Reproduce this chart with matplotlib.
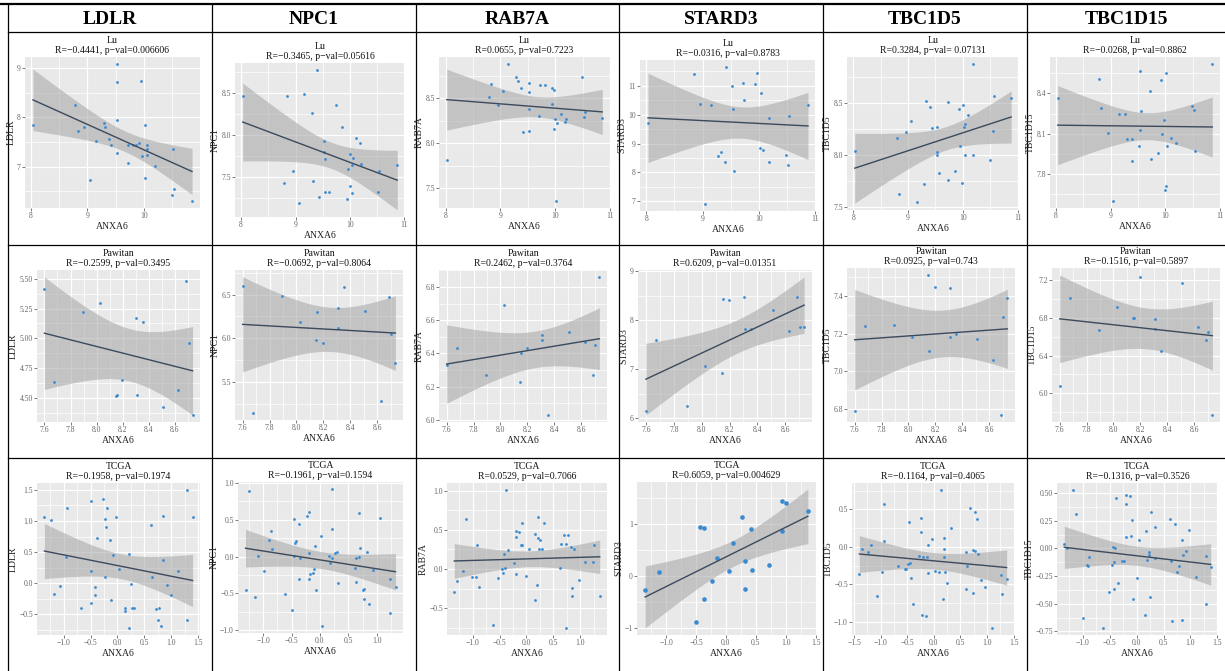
import numpy as np
import matplotlib.pyplot as plt
from matplotlib.ticker import AutoMinorLocator

genes = ["LDLR", "NPC1", "RAB7A", "STARD3", "TBC1D5", "TBC1D15"]
datasets = ["Lu", "Pawitan", "TCGA"]

# Pearson R and p-values printed over each panel (rows = datasets)
r_vals = [[-0.4441, -0.3465, 0.0655, -0.0316, 0.3284, -0.0268],
          [-0.2599, -0.0692, 0.2462, 0.6209, 0.0925, -0.1516],
          [-0.1958, -0.1961, 0.0529, 0.6059, -0.1164, -0.1316]]
p_vals = [["0.006606", "0.05616", "0.7223", "0.8783", " 0.07131", "0.8862"],
          ["0.3495", "0.8064", "0.3764", "0.01351", "0.743", "0.5897"],
          ["0.1974", "0.1594", "0.7066", "0.004629", "0.4065", "0.3526"]]

# axis breaks
lu_x_ticks = [8, 9, 10, 11]
pawitan_x_ticks = [7.6, 7.8, 8.0, 8.2, 8.4, 8.6]
tcga_x_ticks = [-1.5, -1.0, -0.5, 0.0, 0.5, 1.0, 1.5]
lu_y_ticks = [[7, 8, 9], [7.5, 8.0, 8.5], [7.5, 8.0, 8.5],
              [7, 8, 9, 10, 11], [7.5, 8.0, 8.5], [7.8, 8.1, 8.4]]
pawitan_y_ticks = [[4.50, 4.75, 5.00, 5.25, 5.50], [5.5, 6.0, 6.5], [6.0, 6.2, 6.4, 6.6, 6.8],
                   [6, 7, 8, 9], [6.8, 7.0, 7.2, 7.4], [6.0, 6.4, 6.8, 7.2]]
tcga_y_ticks = [[-0.5, 0.0, 0.5, 1.0, 1.5], [-1.0, -0.5, 0.0, 0.5, 1.0], [-0.5, 0.0, 0.5, 1.0],
                [-1, 0, 1], [-1.0, -0.5, 0.0, 0.5], [-0.75, -0.50, -0.25, 0.00, 0.25, 0.50]]

# ---- Lu ----
lu_ldlr_x = [8.04, 8.79, 8.83, 8.95, 9.04, 9.16, 9.29, 9.31, 9.39, 9.42, 9.53, 9.53, 9.52, 9.53, 9.72,
             9.72, 9.81, 9.86, 9.91, 9.94, 9.97, 10.02, 10.02, 10.05, 10.05, 10.05, 10.19, 10.52, 10.49, 10.54, 10.85]
lu_ldlr_y = [7.85, 8.25, 7.72, 7.81, 6.72, 7.52, 7.89, 7.81, 7.55, 7.43, 9.08, 8.72, 7.94, 7.28, 7.43,
             7.07, 7.43, 7.44, 7.47, 8.73, 7.22, 7.85, 6.76, 7.44, 7.36, 7.24, 7.01, 7.36, 6.42, 6.55, 6.30]
lu_npc1_x = [8.03, 8.79, 8.85, 8.95, 9.06, 9.16, 9.31, 9.32, 9.39, 9.44, 9.52, 9.53, 9.54, 9.54, 9.62,
             9.75, 9.85, 9.95, 9.97, 10.00, 10.01, 10.03, 10.04, 10.05, 10.11, 10.19, 10.21, 10.51, 10.54, 10.87]
lu_npc1_y = [8.46, 7.43, 8.46, 7.57, 7.20, 8.49, 8.26, 7.45, 8.77, 7.27, 7.93, 7.80, 7.72, 7.32, 7.33,
             8.36, 8.09, 7.24, 7.60, 7.40, 7.77, 7.64, 7.31, 7.73, 7.97, 7.90, 7.66, 7.33, 7.57, 7.65]
lu_rab7a_x = [8.02, 8.79, 8.83, 8.95, 9.05, 9.14, 9.28, 9.32, 9.38, 9.42, 9.52, 9.53, 9.52, 9.53, 9.71,
              9.73, 9.82, 9.94, 9.95, 9.98, 9.97, 10.00, 10.03, 10.01, 10.10, 10.18, 10.20, 10.49, 10.52, 10.54, 10.86]
lu_rab7a_y = [7.81, 8.51, 8.66, 8.42, 8.58, 8.88, 8.74, 8.69, 8.61, 8.13, 8.57, 8.67, 8.38, 8.14, 8.30,
              8.65, 8.65, 8.44, 8.61, 8.59, 8.16, 8.27, 8.22, 7.36, 8.33, 8.24, 8.27, 8.73, 8.29, 8.35, 8.28]
lu_stard3_x = [8.03, 8.84, 8.95, 9.05, 9.15, 9.28, 9.32, 9.39, 9.42, 9.52, 9.54, 9.55, 9.72,
               9.73, 9.93, 9.97, 10.01, 10.04, 10.08, 10.17, 10.18, 10.48, 10.52, 10.53, 10.87]
lu_stard3_y = [9.72, 11.41, 10.38, 6.90, 10.35, 8.57, 8.70, 8.37, 11.66, 11.01, 10.21, 8.05, 11.09,
               10.51, 11.06, 11.43, 8.86, 10.74, 8.78, 9.89, 8.37, 8.60, 8.27, 9.95, 10.33]
lu_tbc1d5_x = [8.03, 8.79, 8.84, 8.96, 9.05, 9.16, 9.29, 9.32, 9.40, 9.43, 9.52, 9.53, 9.53, 9.56, 9.73,
               9.73, 9.86, 9.94, 9.93, 9.98, 10.00, 10.03, 10.02, 10.04, 10.10, 10.19, 10.19, 10.50, 10.54, 10.57, 10.88]
lu_tbc1d5_y = [8.04, 8.16, 7.63, 8.22, 8.32, 7.55, 7.72, 8.52, 8.46, 8.26, 8.27, 8.03, 8.00, 7.83, 8.51,
               7.76, 7.85, 8.09, 8.44, 7.73, 8.48, 8.30, 8.27, 8.00, 8.38, 8.87, 8.00, 7.95, 8.23, 8.56, 8.54]
lu_tbc1d15_x = [8.03, 8.79, 8.83, 8.95, 9.05, 9.16, 9.27, 9.29, 9.39, 9.39, 9.52, 9.53, 9.54, 9.56, 9.72,
                9.73, 9.86, 9.93, 9.94, 9.97, 10.01, 10.00, 10.02, 10.03, 10.10, 10.19, 10.49, 10.53, 10.54, 10.86]
lu_tbc1d15_y = [8.37, 8.51, 8.29, 8.11, 7.60, 8.25, 8.25, 8.06, 8.06, 7.90, 8.01, 8.13, 8.57, 8.27, 8.42,
                7.91, 7.96, 8.50, 8.10, 8.20, 8.55, 7.68, 7.71, 8.01, 8.07, 8.03, 8.31, 8.28, 7.97, 8.62]

# ---- Pawitan (same ANXA6 values for every gene) ----
pawitan_anxa6 = [7.60, 7.675, 7.895, 8.025, 8.145, 8.155, 8.195, 8.305, 8.31, 8.355, 8.51, 8.625, 8.685, 8.705, 8.735]
pawitan_ldlr = [5.41, 4.64, 5.22, 5.30, 4.52, 4.53, 4.65, 5.17, 4.53, 5.14, 4.43, 4.57, 5.48, 4.96, 4.36]
pawitan_npc1 = [6.60, 5.14, 6.48, 6.19, 5.98, 6.30, 5.94, 6.35, 6.12, 6.59, 6.31, 5.28, 6.47, 6.05, 5.72]
pawitan_rab7a = [6.33, 6.43, 6.27, 6.69, 6.23, 6.40, 6.43, 6.48, 6.51, 6.03, 6.53, 6.47, 6.27, 6.45, 6.86]
pawitan_stard3 = [6.15, 7.60, 6.25, 7.07, 6.93, 8.43, 8.41, 8.48, 7.81, 7.82, 8.21, 7.78, 8.48, 7.86, 7.86]
pawitan_tbc1d5 = [6.79, 7.24, 7.245, 7.18, 7.51, 7.11, 7.445, 7.44, 7.18, 7.20, 7.17, 7.06, 6.77, 7.29, 7.39]
pawitan_tbc1d15 = [6.08, 7.005, 6.67, 6.91, 6.80, 6.80, 7.23, 6.79, 6.68, 6.45, 7.17, 6.70, 6.57, 6.655, 5.77]

# ---- TCGA ----
tcga_ldlr_x = [-1.36, -1.24, -1.19, -1.07, -0.95, -0.94, -0.67, -0.50, -0.49, -0.49, -0.42, -0.42, -0.38, -0.27, -0.24,
               -0.23, -0.22, -0.20, -0.13, -0.12, -0.09, -0.02, 0.02, 0.15, 0.15, 0.22, 0.22, 0.25, 0.27, 0.30,
               0.63, 0.65, 0.71, 0.76, 0.77, 0.81, 0.85, 0.85, 0.92, 1.00, 1.12, 1.30, 1.30, 1.40]
tcga_ldlr_y = [1.07, 1.01, -0.165, -0.04, 0.415, 1.21, -0.40, 0.19, 1.32, -0.31, -0.065, -0.19, 0.72, 1.35, 0.10,
               1.04, 0.90, 1.21, 0.70, -0.27, 0.46, 1.06, 0.23, -0.40, -0.44, 0.47, -0.72, -0.015, -0.40, -0.39,
               0.94, 0.10, -0.41, -0.585, -0.40, -0.69, 1.085, 0.38, -0.03, -0.19, 0.20, 1.50, -0.585, 1.06]
tcga_npc1_x = [-1.31, -1.25, -1.14, -1.09, -0.98, -0.90, -0.86, -0.85, -0.61, -0.50, -0.45, -0.44, -0.42, -0.45,
               -0.375, -0.375, -0.345, -0.23, -0.20, -0.20, -0.19, -0.17, -0.13, -0.10, -0.08, -0.07, 0.01, 0.04,
               0.16, 0.18, 0.22, 0.22, 0.22, 0.26, 0.30, 0.32, 0.61, 0.63, 0.63, 0.68, 0.69, 0.71, 0.76, 0.77,
               0.77, 0.82, 0.87, 0.94, 1.05, 1.23, 1.24, 1.33]
tcga_npc1_y = [-0.46, 0.89, -0.55, 0.01, -0.19, 0.23, 0.35, 0.105, -0.51, -0.73, 0.51, 0.19, 0.205, 0.01,
               0.44, -0.30, -0.02, 0.555, -0.30, 0.61, 0.05, -0.235, -0.22, -0.165, 0.14, -0.46, 0.28, -0.945,
               0.01, -0.09, 0.92, 0.38, -0.02, 0.055, 0.06, -0.355, -0.16, -0.34, -0.02, 0.59, 0.0, 0.11, -0.45, -0.58,
               -0.445, 0.06, -0.64, -0.185, 0.53, -0.31, -0.77, -0.41]
tcga_rab7a_x = [-1.34, -1.29, -1.17, -1.12, -1.01, -0.93, -0.92, -0.89, -0.62, -0.52, -0.46, -0.44, -0.42, -0.40,
                -0.38, -0.35, -0.24, -0.20, -0.20, -0.19, -0.14, -0.10, -0.08, -0.08, 0.00, 0.04, 0.15, 0.16,
                0.19, 0.22, 0.22, 0.25, 0.23, 0.29, 0.33, 0.62, 0.65, 0.70, 0.73, 0.74, 0.77, 0.83, 0.84, 0.84,
                0.89, 0.97, 1.08, 1.23, 1.26, 1.36]
tcga_rab7a_y = [-0.295, -0.15, -0.02, 0.64, -0.105, -0.10, 0.31, -0.23, -0.71, -0.11, 0.0, -0.045, 0.19, 0.01,
                1.01, 0.24, 0.08, -0.07, 0.48, 0.41, 0.47, 0.30, 0.31, 0.59, -0.09, 0.26, 0.45, -0.39,
                -0.21, 0.67, 0.39, 0.375, 0.25, 0.26, 0.59, 0.01, 0.32, 0.44, 0.32, -0.755, 0.43, 0.28, -0.24, -0.34,
                0.25, -0.135, 0.09, 0.09, 0.31, -0.34]
tcga_stard3_x = [-1.35, -1.12, -0.50, -0.43, -0.37, -0.36, -0.23, -0.15, 0.06, 0.12,
                 0.27, 0.32, 0.32, 0.42, 0.43, 0.72, 0.93, 0.93, 1.00, 1.37]
tcga_stard3_y = [-0.27, 0.065, -0.90, 0.94, 0.92, -0.44, -0.10, 0.335, 0.10, 0.625,
                 1.135, 0.29, -0.245, 0.90, 0.12, 0.205, 1.45, 0.865, 1.40, 1.26]
tcga_tbc1d5_x = [-1.40, -1.35, -1.23, -1.18, -1.06, -0.975, -0.94, -0.93, -0.67, -0.55, -0.53, -0.48, -0.47,
                 -0.44, -0.42, -0.39, -0.27, -0.25, -0.24, -0.23, -0.20, -0.15, -0.12, -0.11, -0.10, -0.025,
                 0.02, 0.10, 0.14, 0.17, 0.20, 0.20, 0.20, 0.22, 0.24, 0.32, 0.60, 0.60, 0.63, 0.68, 0.73,
                 0.74, 0.78, 0.78, 0.82, 0.83, 0.89, 0.97, 1.09, 1.26, 1.28, 1.37]
tcga_tbc1d5_y = [-0.36, -0.025, -0.065, 0.02, -0.655, -0.33, 0.575, 0.075, -0.25, -0.29, -0.30, -0.225, 0.33,
                 -0.21, -0.415, -0.77, -0.12, 0.385, 0.20, -0.915, -0.14, -0.925, -0.13, 0.025, -0.345, 0.11,
                 -0.32, -0.33, 0.76, -0.70, 0.115, -0.03, -0.14, -0.33, -0.48, 0.245, -0.065, -0.56, -0.25, 0.52, -0.62,
                 -0.045, -0.055, 0.465, 0.375, -0.10, -0.445, -0.54, -1.085, -0.37, -0.625, -0.435]
tcga_tbc1d15_x = [-1.34, -1.29, -1.17, -1.12, -1.00, -0.90, -0.89, -0.91, -0.62, -0.51, -0.45, -0.44, -0.425,
                  -0.41, -0.40, -0.375, -0.35, -0.275, -0.24, -0.19, -0.19, -0.19, -0.125, -0.105, -0.09, -0.075,
                  0.01, 0.05, 0.16, 0.175, 0.19, 0.24, 0.24, 0.245, 0.26, 0.34, 0.34, 0.625, 0.64, 0.65, 0.71,
                  0.75, 0.79, 0.84, 0.85, 0.86, 0.91, 0.975, 1.10, 1.28, 1.29, 1.375]
tcga_tbc1d15_y = [0.04, 0.005, 0.53, 0.31, -0.625, -0.16, -0.08, -0.15, -0.72, -0.39, -0.15, 0.01, -0.365,
                  -0.12, 0.0, 0.46, -0.31, -0.115, -0.115, 0.10, 0.485, 0.40, 0.475, 0.11, 0.255, -0.46,
                  -0.265, 0.08, -0.60, 0.155, -0.10, -0.03, -0.06, -0.435, 0.33, -0.085, 0.19, 0.265, -0.11, -0.655, 0.225,
                  -0.215, -0.155, 0.08, -0.645, -0.055, -0.025, 0.17, -0.255, -0.50, -0.07, -0.17]

panels = [
    [(lu_ldlr_x, lu_ldlr_y), (lu_npc1_x, lu_npc1_y), (lu_rab7a_x, lu_rab7a_y),
     (lu_stard3_x, lu_stard3_y), (lu_tbc1d5_x, lu_tbc1d5_y), (lu_tbc1d15_x, lu_tbc1d15_y)],
    [(pawitan_anxa6, pawitan_ldlr), (pawitan_anxa6, pawitan_npc1), (pawitan_anxa6, pawitan_rab7a),
     (pawitan_anxa6, pawitan_stard3), (pawitan_anxa6, pawitan_tbc1d5), (pawitan_anxa6, pawitan_tbc1d15)],
    [(tcga_ldlr_x, tcga_ldlr_y), (tcga_npc1_x, tcga_npc1_y), (tcga_rab7a_x, tcga_rab7a_y),
     (tcga_stard3_x, tcga_stard3_y), (tcga_tbc1d5_x, tcga_tbc1d5_y), (tcga_tbc1d15_x, tcga_tbc1d15_y)],
]
x_ticks = [lu_x_ticks, pawitan_x_ticks, tcga_x_ticks]
y_ticks = [lu_y_ticks, pawitan_y_ticks, tcga_y_ticks]

# axes boxes in pixels (left, top, right, bottom)
boxes = [
    [(25, 57, 200, 208), (235, 63, 405, 217), (439, 57, 610, 208),
     (640, 60, 816, 211), (847, 57, 1019, 210), (1050, 57, 1220, 208)],
    [(37, 270, 200, 422), (235, 270, 403, 420), (439, 270, 607, 422),
     (638, 270, 812, 422), (847, 268, 1015, 422), (1052, 268, 1220, 422)],
    [(37, 483, 200, 635), (238, 482, 403, 633), (447, 483, 607, 635),
     (637, 482, 816, 635), (852, 483, 1014, 635), (1057, 483, 1218, 635)],
]
col_edges = [8, 212, 416, 619, 823, 1027, 1225]
W, H = 1225, 671


def t975(df):
    # Cornish-Fisher approximation of the 97.5% Student t quantile
    z = 1.959964
    return z + (z**3 + z) / (4 * df) + (5 * z**5 + 16 * z**3 + 3 * z) / (96 * df**2)


def regplot(ax, x, y, size):
    x = np.asarray(x, float)
    y = np.asarray(y, float)
    n = len(x)
    slope, icpt = np.polyfit(x, y, 1)
    grid = np.linspace(x.min(), x.max(), 100)
    fit = icpt + slope * grid
    resid = y - (icpt + slope * x)
    s = np.sqrt(np.sum(resid**2) / (n - 2))
    se = s * np.sqrt(1.0 / n + (grid - x.mean())**2 / np.sum((x - x.mean())**2))
    band = t975(n - 2) * se
    ax.scatter(x, y, s=size, color="#3a8ad0", linewidths=0, zorder=3)
    ax.fill_between(grid, fit - band, fit + band, color="#a5a5a5", alpha=0.55, lw=0, zorder=2)
    ax.plot(grid, fit, color="#3b4a5c", lw=1.0, zorder=4)


def tick_labels(vals):
    # same number of decimals on every break of an axis
    dec = max(len(f"{v:g}".split(".")[1]) if "." in f"{v:g}" else 0 for v in vals)
    return [f"{v:.{dec}f}".replace("-", "\u2212") for v in vals]


def set_breaks(axis, lims, vals):
    axis.set_ticks(vals)
    axis.set_ticklabels(tick_labels(vals))
    axis.axes.set_xlim(lims[0]) if axis.axis_name == "x" else axis.axes.set_ylim(lims[1])


plt.style.use("ggplot")
plt.rcParams["font.family"] = ["Liberation Serif", "DejaVu Serif"]

fig = plt.figure(figsize=(W / 100, H / 100), dpi=100)
fig.patch.set_facecolor("white")

# table frame
frame = fig.add_axes([0, 0, 1, 1])
frame.set_xlim(0, W)
frame.set_ylim(H, 0)
frame.axis("off")
frame.plot([0, W], [4, 4], color="black", lw=1.6)
for yy in (32, 245, 458):
    frame.plot([col_edges[0], W], [yy, yy], color="black", lw=0.9)
for xx in col_edges[:-1]:
    frame.plot([xx, xx], [4, H], color="black", lw=0.9)
for i, g in enumerate(genes):
    frame.text((col_edges[i] + col_edges[i + 1]) / 2, 19, g, ha="center", va="center",
               fontsize=14, fontweight="bold")

for r, ds in enumerate(datasets):
    for c, gene in enumerate(genes):
        x0, y0, x1, y1 = boxes[r][c]
        ax = fig.add_axes([x0 / W, 1 - y1 / H, (x1 - x0) / W, (y1 - y0) / H])
        ax.set_facecolor("#e9e9e9")
        xs, ys = panels[r][c]
        size = 11 if (ds == "TCGA" and gene == "STARD3") else 4
        regplot(ax, xs, ys, size)

        lims = (ax.get_xlim(), ax.get_ylim())
        set_breaks(ax.xaxis, lims, x_ticks[r])
        set_breaks(ax.yaxis, lims, y_ticks[r][c])

        ax.xaxis.set_minor_locator(AutoMinorLocator(2))
        ax.yaxis.set_minor_locator(AutoMinorLocator(2))
        ax.grid(True, which="major", color="white", lw=0.9)
        ax.grid(True, which="minor", color="white", lw=0.5)
        ax.tick_params(which="major", labelsize=5.5, length=2, width=0.6, pad=1, colors="#666666")
        ax.tick_params(which="minor", length=0)
        for sp in ax.spines.values():
            sp.set_visible(False)

        title = f"{ds}\nR={r_vals[r][c]:.4f}, p-val={p_vals[r][c]}".replace("-", "\u2212")
        ax.set_title(title, fontsize=7.0, pad=3, linespacing=1.1, color="#111111")
        ax.set_xlabel("ANXA6", fontsize=7, labelpad=1, color="#222222")
        ax.set_ylabel(gene, fontsize=7, labelpad=1, color="#222222")

fig.savefig("out.png", dpi=100)
